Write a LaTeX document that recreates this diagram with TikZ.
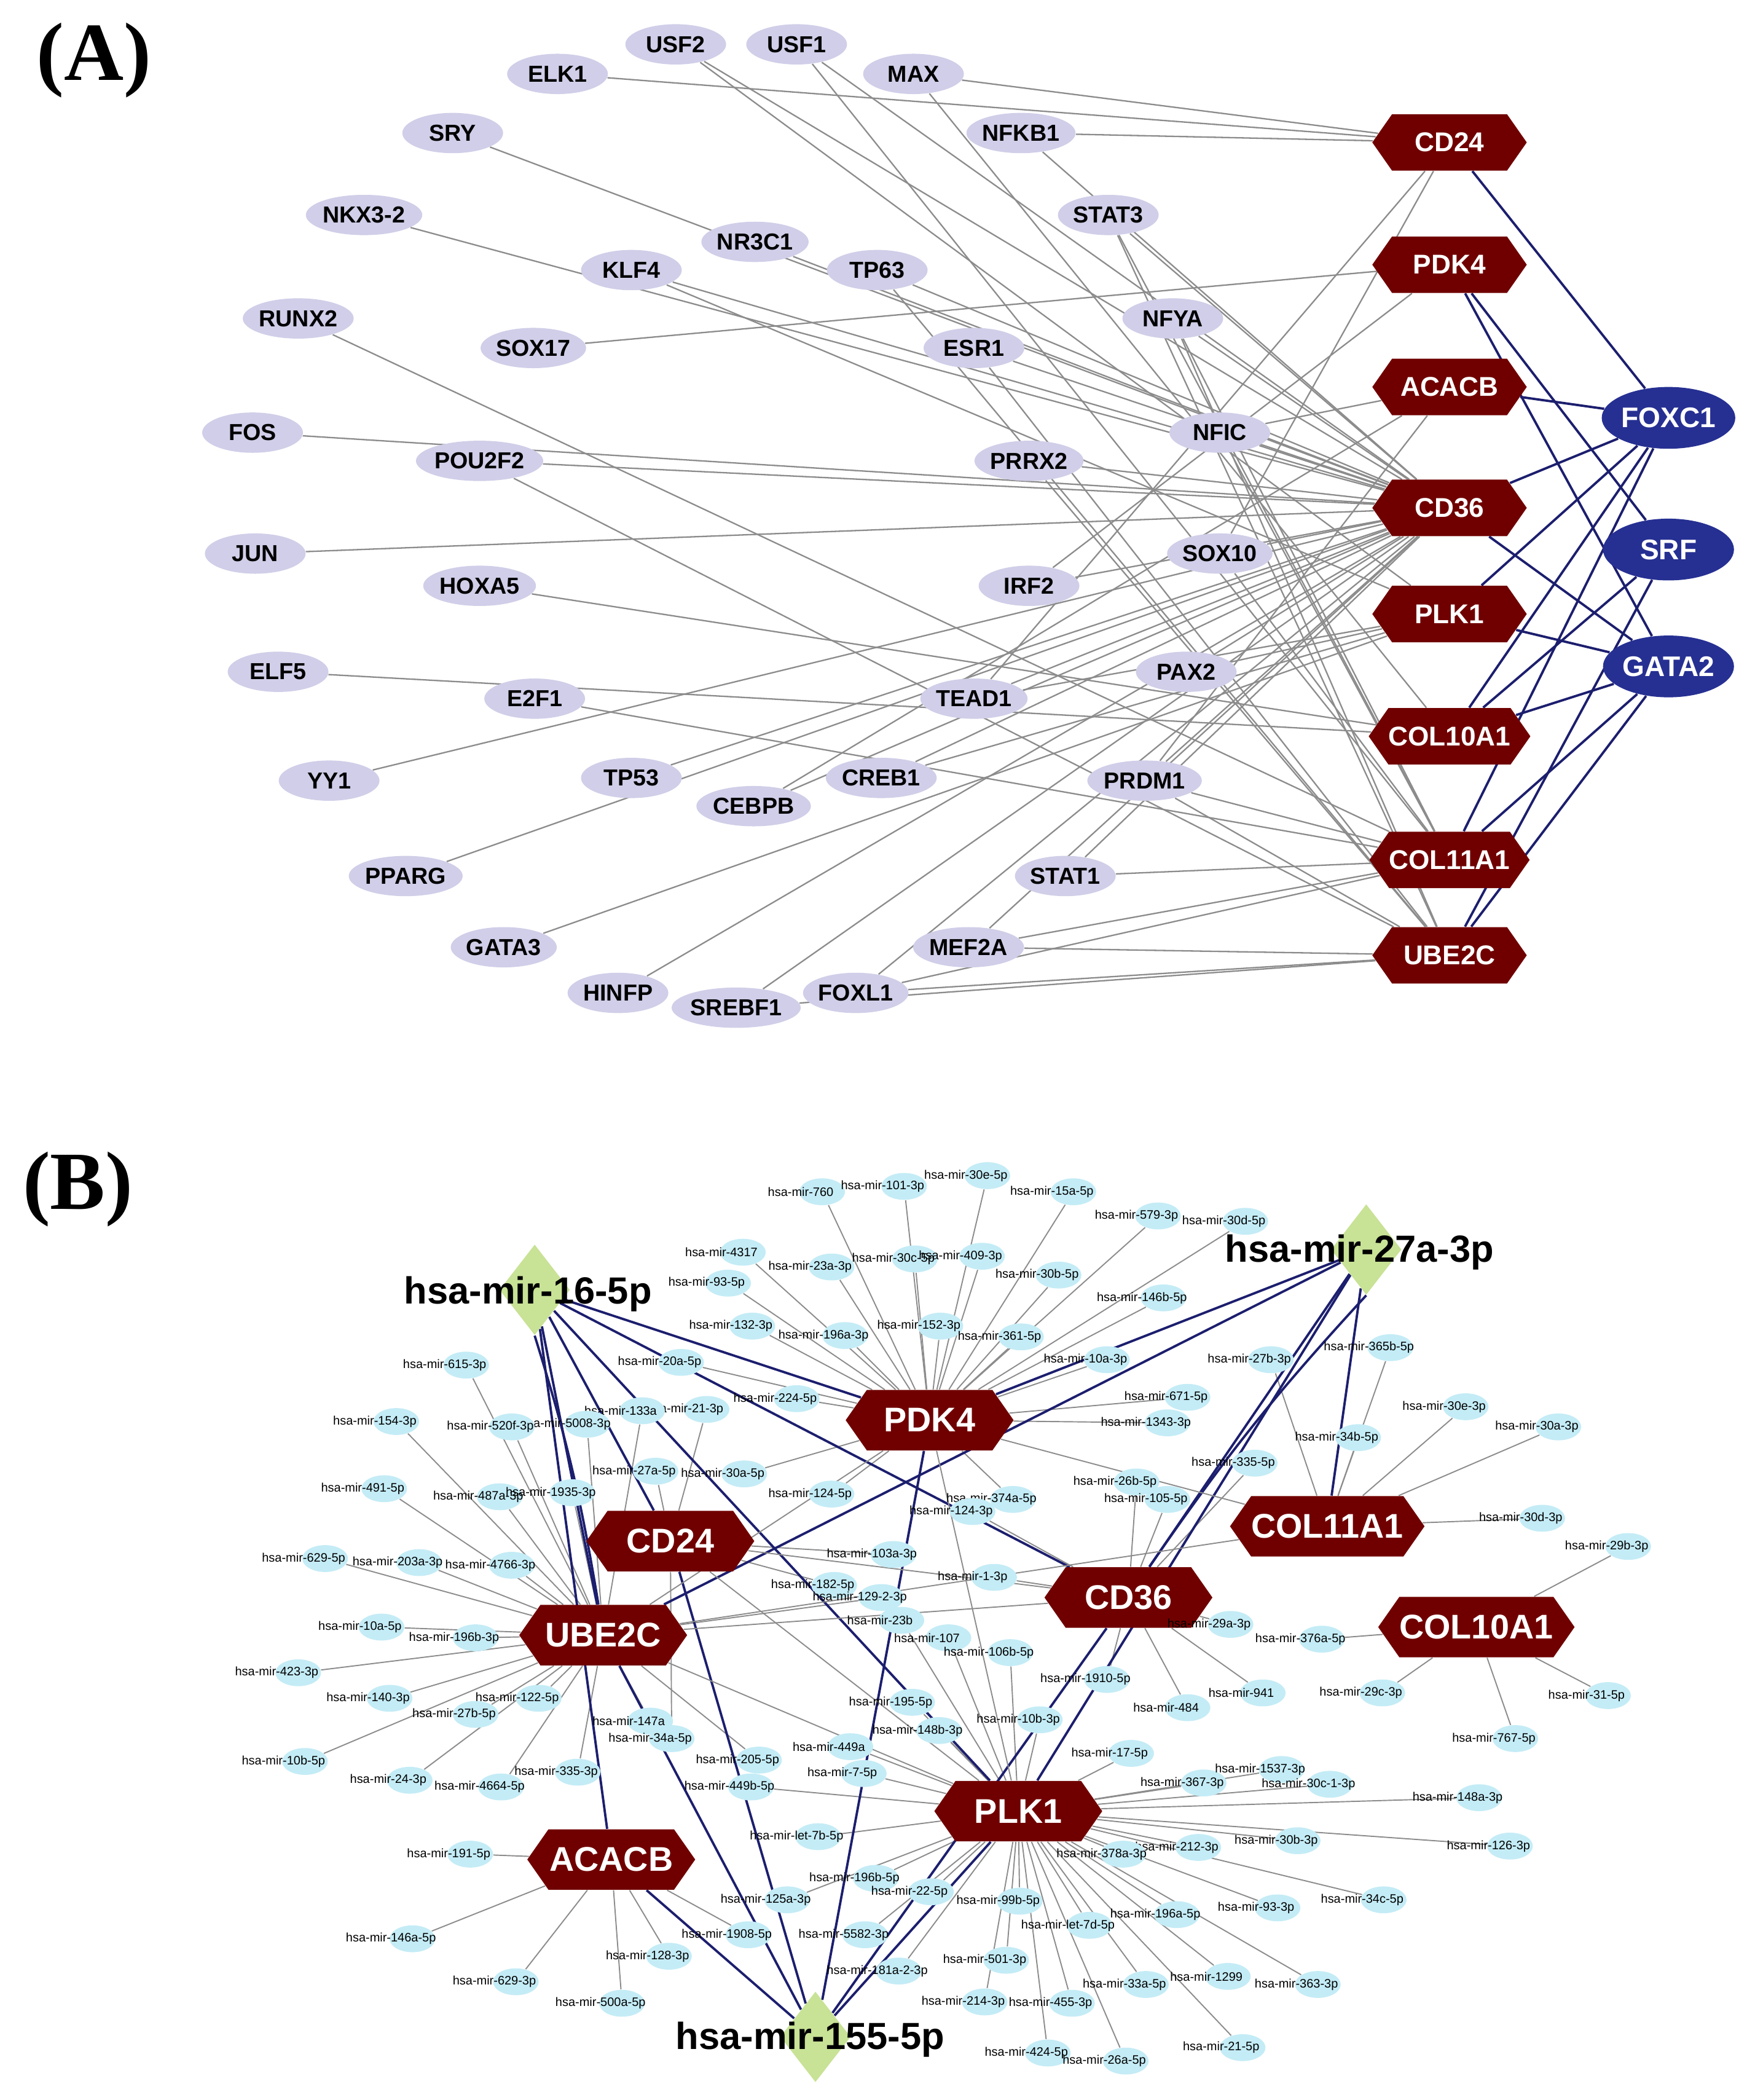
\documentclass[tikz,border=0pt]{standalone}
\usepackage{fontspec}
\setmainfont{Liberation Sans}
\newfontfamily\serifb{Liberation Serif}
\usetikzlibrary{shapes.geometric,shapes.symbols,backgrounds}
\definecolor{tfc}{RGB}{208,206,232}
\definecolor{hexc}{RGB}{112,0,0}
\definecolor{bluec}{RGB}{38,48,146}
\definecolor{navy}{RGB}{28,30,110}
\definecolor{mic}{RGB}{196,236,246}
\definecolor{dia}{RGB}{200,226,150}
\definecolor{edg}{RGB}{140,140,140}
\tikzset{
 tf/.style={ellipse,fill=tfc,minimum width=1.5cm,minimum height=0.6cm,inner sep=0pt,font=\fontsize{9.8}{10}\selectfont\bfseries},
 hx/.style={shape=signal,signal to=west and east,signal pointer angle=110,fill=hexc,text=white,minimum width=2.3cm,minimum height=0.84cm,inner sep=0pt,font=\fontsize{11.5}{12}\selectfont\bfseries},
 hxb/.style={hx,minimum width=2.5cm,minimum height=0.9cm,font=\fontsize{14.5}{15}\selectfont\bfseries},
 bl/.style={ellipse,fill=bluec,text=white,minimum width=1.95cm,minimum height=0.92cm,inner sep=0pt,font=\fontsize{12}{13}\selectfont\bfseries},
 mi/.style={ellipse,fill=mic,minimum width=0.68cm,minimum height=0.4cm,inner sep=0pt},
 ml/.style={font=\fontsize{5.2}{6}\selectfont,inner sep=0pt},
 dm/.style={diamond,fill=dia,minimum width=1.05cm,minimum height=1.35cm,inner sep=0pt},
 dl/.style={font=\fontsize{16}{17}\selectfont\bfseries,inner sep=0pt},
 ge/.style={draw=edg,line width=0.6pt},
 ne/.style={draw=navy,line width=1pt},
}
\begin{document}
\begin{tikzpicture}[x=0.02cm,y=-0.02cm]
\useasboundingbox (0,0) rectangle (1300,1563);
\node[font=\serifb\fontsize{35}{36}\selectfont\bfseries] at (70,45) {(A)};
\node[font=\serifb\fontsize{35}{36}\selectfont\bfseries] at (58,885) {(B)};
% Panel A
\foreach \n/\x/\y in {ELK1/415/55,USF2/503/33,USF1/593/33,MAX/680/55,NFKB1/760/99,SRY/337/99,STAT3/825/160,NKX3-2/271/160,NR3C1/562/180,KLF4/470/201,TP63/653/201,RUNX2/222/237,SOX17/397/259,NFYA/873/237,ESR1/725/259,NFIC/908/322,FOS/188/322,POU2F2/357/343,PRRX2/766/343,JUN/190/412,SOX10/908/412,HOXA5/357/436,IRF2/766/436,ELF5/207/500,PAX2/883/500,E2F1/398/520,TEAD1/725/520,YY1/245/581,TP53/470/579,CREB1/656/579,CEBPB/561/600,PRDM1/852/581,PPARG/302/652,STAT1/793/652,GATA3/375/705,MEF2A/721/705,HINFP/460/739,FOXL1/637/739,SREBF1/548/750}
  \node[tf] (\n) at (\x,\y) {\n};
\foreach \n/\y in {CD24/106,PDK4/197,ACACB/288,CD36/378,PLK1/457,COL10A1/548,COL11A1/640,UBE2C/711}
  \node[hx] (\n) at (1079,\y) {\n};
\node[bl] (FOXC1) at (1242,311) {FOXC1};
\node[bl] (SRF) at (1242,409) {SRF};
\node[bl] (GATA2) at (1242,496) {GATA2};
\begin{pgfonlayer}{background}
\foreach \a/\b in {ELK1/CD24,USF2/CD36,USF2/PLK1,USF1/CD36,USF1/COL11A1,MAX/CD24,MAX/COL10A1,NFKB1/CD24,NFKB1/CD36,SRY/CD36,NKX3-2/CD36,KLF4/CD36,KLF4/PLK1,NR3C1/CD36,TP63/CD36,TP63/UBE2C,SOX17/PDK4,RUNX2/COL11A1,STAT3/CD36,STAT3/COL11A1,STAT3/UBE2C,NFYA/CD36,NFYA/COL11A1,NFYA/UBE2C,ESR1/CD36,ESR1/UBE2C,FOS/CD36,POU2F2/CD36,POU2F2/UBE2C,NFIC/ACACB,NFIC/CD36,NFIC/COL11A1,PRRX2/CD36,PRRX2/UBE2C,JUN/CD36,SOX10/CD24,SOX10/CD36,SOX10/COL11A1,IRF2/PDK4,IRF2/CD36,HOXA5/COL10A1,ELF5/COL10A1,E2F1/COL11A1,TEAD1/CD36,TEAD1/PLK1,TEAD1/CD24,PAX2/CD36,PAX2/PLK1,YY1/CD36,TP53/CD36,CEBPB/CD36,CEBPB/ACACB,CREB1/CD36,CREB1/PLK1,PRDM1/CD36,PRDM1/ACACB,PRDM1/COL11A1,PRDM1/UBE2C,PPARG/CD36,GATA3/PLK1,HINFP/CD36,STAT1/COL11A1,STAT1/CD36,MEF2A/COL11A1,MEF2A/UBE2C,MEF2A/CD36,SREBF1/CD36,SREBF1/UBE2C,FOXL1/UBE2C,FOXL1/COL11A1,FOXL1/CD36}
  \draw[ge] (\a) -- (\b);
\foreach \a/\b in {CD24/FOXC1,PDK4/SRF,PDK4/GATA2,ACACB/FOXC1,CD36/FOXC1,CD36/GATA2,PLK1/FOXC1,PLK1/GATA2,COL10A1/FOXC1,COL10A1/SRF,COL10A1/GATA2,COL11A1/FOXC1,COL11A1/GATA2,UBE2C/SRF,UBE2C/GATA2}
  \draw[ne] (\a) -- (\b);
\end{pgfonlayer}
% Panel B
\foreach \n/\x/\y in {PDK4/692/1057,CD24/499/1147,UBE2C/449/1217,CD36/840/1189,COL11A1/988/1136,COL10A1/1099/1211,PLK1/758/1348,ACACB/455/1384}
  \node[hxb] (B\n) at (\x,\y) {\n};
\node[dm] (d16) at (398,960) {};
\node[dl] (l16) at (393,963) {hsa-mir-16-5p};
\node[dm] (d27) at (1017,930) {};
\node[dl] (l27) at (1012,932) {hsa-mir-27a-3p};
\node[dm] (d155) at (607,1516) {};
\node[dl] (l155) at (603,1518) {hsa-mir-155-5p};
\foreach \t/\x/\y/\h [count=\i] in {760/596/887/PDK4,101-3p/657/883/PDK4,30e-5p/719/875/PDK4,15a-5p/783/887/PDK4,579-3p/846/905/PDK4,30d-5p/911/909/PDK4,4317/537/932/PDK4,23a-3p/603/943/PDK4,30c-5p/665/937/PDK4,409-3p/715/935/PDK4,30b-5p/772/949/PDK4,93-5p/526/955/PDK4,146b-5p/850/966/PDK4,132-3p/544/987/PDK4,196a-3p/613/994/PDK4,152-3p/684/987/PDK4,361-5p/744/995/PDK4,615-3p/331/1016/UBE2C,20a-5p/491/1014/PDK4,10a-3p/808/1012/PDK4,27b-3p/930/1012/COL11A1,365b-5p/1019/1003/COL11A1,224-5p/577/1041/PDK4,21-3p/510/1049/CD24,133a/462/1050/UBE2C,5008-3p/421/1060/UBE2C,520f-3p/365/1062/UBE2C,154-3p/279/1058/UBE2C,671-5p/868/1040/PDK4,30e-3p/1075/1047/COL11A1,1343-3p/853/1059/PDK4,30a-3p/1144/1062/COL11A1,34b-5p/995/1070/COL11A1,335-5p/918/1089/CD36,491-5p/270/1108/UBE2C,487a-3p/356/1114/UBE2C,1935-3p/410/1111/UBE2C,27a-5p/472/1095/CD24,30a-5p/538/1097/PDK4,124-5p/603/1112/PDK4,26b-5p/830/1103/CD36,105-5p/853/1116/CD36,374a-5p/738/1116/PDK4,124-3p/708/1125/CD36,30d-3p/1132/1130/COL11A1,29b-3p/1196/1151/COL10A1,629-5p/226/1160/UBE2C,203a-3p/296/1163/UBE2C,4766-3p/365/1165/UBE2C,103a-3p/649/1157/CD24,1-3p/724/1174/CD36,182-5p/605/1180/CD24,129-2-3p/640/1189/UBE2C,23b/655/1206/PLK1,107/690/1219/PLK1,106b-5p/736/1230/PLK1,29a-3p/900/1209/CD36,376a-5p/968/1220/COL10A1,10a-5p/268/1211/UBE2C,196b-3p/338/1219/UBE2C,423-3p/206/1245/UBE2C,140-3p/274/1264/UBE2C,1910-5p/808/1250/CD36,122-5p/385/1264/UBE2C,27b-5p/338/1276/UBE2C,147a/468/1281/UBE2C,195-5p/663/1267/PLK1,941/924/1260/CD36,29c-3p/1013/1260/COL10A1,31-5p/1181/1262/COL10A1,484/868/1271/CD36,34a-5p/484/1294/CD24,148b-3p/683/1288/PLK1,10b-3p/758/1280/PLK1,449a/617/1300/PLK1,10b-5p/211/1311/UBE2C,24-3p/289/1325/UBE2C,4664-5p/357/1330/UBE2C,335-3p/414/1319/UBE2C,205-5p/549/1310/UBE2C,767-5p/1112/1294/COL10A1,17-5p/826/1305/PLK1,7-5p/627/1320/PLK1,449b-5p/543/1330/PLK1,367-3p/880/1327/PLK1,1537-3p/938/1317/PLK1,30c-1-3p/974/1328/PLK1,148a-3p/1085/1338/PLK1,let-7b-5p/593/1367/PLK1,212-3p/876/1375/PLK1,30b-3p/950/1370/PLK1,126-3p/1108/1374/PLK1,378a-3p/820/1380/PLK1,191-5p/334/1380/ACACB,196b-5p/636/1398/PLK1,22-5p/677/1408/PLK1,125a-3p/570/1414/PLK1,99b-5p/743/1415/PLK1,93-3p/935/1420/PLK1,34c-5p/1014/1414/PLK1,196a-5p/860/1425/PLK1,1908-5p/541/1440/ACACB,5582-3p/628/1440/PLK1,let-7d-5p/795/1433/PLK1,146a-5p/291/1443/ACACB,128-3p/482/1456/ACACB,501-3p/733/1459/PLK1,1299/898/1471/PLK1,363-3p/965/1477/PLK1,181a-2-3p/653/1467/PLK1,629-3p/368/1475/ACACB,33a-5p/837/1477/PLK1,500a-5p/447/1491/ACACB,214-3p/717/1490/PLK1,455-3p/782/1491/PLK1,21-5p/909/1524/PLK1,424-5p/764/1528/PLK1,26a-5p/822/1534/PLK1}
{
  \node[mi] (m\i) at (\x+16,\y) {};
  \node[ml] (t\i) at (\x,\y) {hsa-mir-\t};
  \begin{pgfonlayer}{background}
    \draw[ge,line width=0.5pt] (m\i) -- (B\h);
  \end{pgfonlayer}
}
\begin{pgfonlayer}{background}
\foreach \a/\b in {d16/BPDK4,d16/BCD24,d16/BUBE2C,d16/BCD36,d16/BPLK1,d16/BACACB,d27/BPDK4,d27/BUBE2C,d27/BCD36,d27/BCOL11A1,d27/BPLK1,d155/BUBE2C,d155/BACACB,d155/BPLK1,d155/BCD24,d155/BPDK4,d155/BCD36}
  \draw[ne] (\a) -- (\b);
\draw[ne] (d16.south) to[bend left=4] (BUBE2C);
\draw[ne] (d27.south) to[bend right=4] (BCD36);
\foreach \a/\b in {BUBE2C/BCD36,BUBE2C/BPDK4,BCD24/BPLK1,BUBE2C/BPLK1,BPDK4/BCOL11A1,BUBE2C/BCOL11A1,BCD24/BCD36,BPDK4/BPLK1}
  \draw[ge,line width=0.5pt] (\a) -- (\b);
\end{pgfonlayer}
\end{tikzpicture}
\end{document}
